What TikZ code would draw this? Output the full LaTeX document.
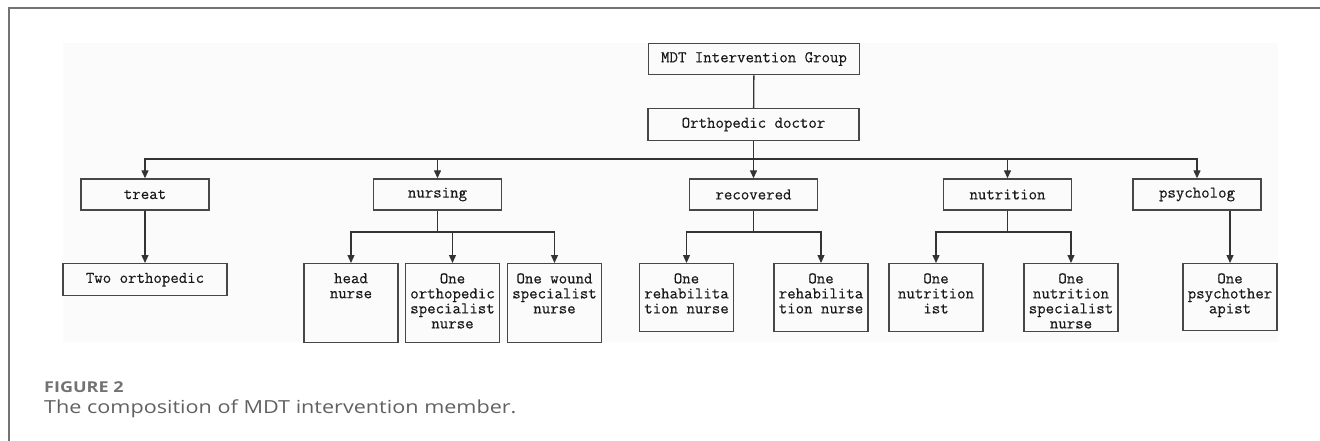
\documentclass[tikz,border=0pt]{standalone}
\usepackage{fontspec}
\setmainfont{Open Sans}
\newfontfamily\capfont[FakeStretch=1.2]{Open Sans}
\newfontfamily\chartfont[FakeBold=0.3]{Latin Modern Mono}
\usetikzlibrary{arrows.meta}

\tikzset{
  chart text/.style={font=\chartfont\fontsize{16.4}{15}\selectfont, text=black!90},
  box/.style={draw=black!72, line width=1.4pt, inner sep=0pt, chart text},
  topbox/.style={box, minimum width=211, minimum height=31.5},
  groupbox/.style={box, minimum width=128, minimum height=31},
  memberbox/.style={box, minimum width=94, minimum height=#1, anchor=north},
  membertext/.style={anchor=north, align=center, inner sep=0pt, yshift=-10pt, chart text},
  link/.style={draw=black!80, line width=1.3pt},
  arrow/.style={link, -{Triangle[length=8pt,width=7pt]}},
}

\begin{document}
\begin{tikzpicture}[x=1pt,y=-1pt]
	\useasboundingbox (0,0) rectangle (1320,441);
	\fill[black!1.5] (63,43) rectangle (1278,342);
	\draw[black!55, line width=1.5pt] (9,441) -- (9,8) -- (1320,8);
	
	% top of the tree
	\node[topbox] (mdt) at (754,59) {MDT Intervention Group};
	\node[topbox] (ortho) at (753.5,124.5) {Orthopedic doctor};
	\coordinate (bus) at (753.5,159);
	\coordinate (lvl2) at (0,232);
	
	% groups
	\node[groupbox] (treat) at (145,194.5) {treat};
	\node[groupbox] (nursing) at (437.5,194.5) {nursing};
	\node[groupbox] (recovered) at (753.5,194.5) {recovered};
	\node[groupbox] (nutrition) at (1007.5,194.5) {nutrition};
	\node[groupbox] (psycholog) at (1197,194.5) {psycholog};
	
	% members
	\node[box, minimum width=164, minimum height=32, anchor=north] (twoortho) at (145,263) {Two orthopedic};
	\node[memberbox=79, label={[membertext]north:{head\\nurse}}] (head) at (351,263) {};
	\node[memberbox=79, label={[membertext]north:{One\\orthopedic\\specialist\\nurse}}] (orthspec) at (452.5,263) {};
	\node[memberbox=79, label={[membertext]north:{One wound\\specialist\\nurse}}] (wound) at (554.5,263) {};
	\node[memberbox=68, label={[membertext]north:{One\\rehabilita\\tion nurse}}] (rehabA) at (686.5,263) {};
	\node[memberbox=68, label={[membertext]north:{One\\rehabilita\\tion nurse}}] (rehabB) at (821,263) {};
	\node[memberbox=68, label={[membertext]north:{One\\nutrition\\ist}}] (nutritionist) at (936,263) {};
	\node[memberbox=68, label={[membertext]north:{One\\nutrition\\specialist\\nurse}}] (nutrspec) at (1071,263) {};
	\node[memberbox=67, label={[membertext]north:{One\\psychother\\apist}}] (psychother) at (1230,263) {};
	
	% connectors
	\draw[link] (mdt) -- (ortho);
	\draw[arrow] (ortho.south) -- (recovered.north);
	\foreach \g in {treat,nursing,nutrition,psycholog}
		\draw[arrow] (bus) -| (\g.north);
	
	\draw[arrow] (treat) -- (twoortho);
	\draw[link] (nursing.south) -- (nursing.south |- lvl2);
	\foreach \m in {head,orthspec,wound}
		\draw[arrow] (nursing.south |- lvl2) -| (\m.north);
	\draw[link] (recovered.south) -- (recovered.south |- lvl2);
	\foreach \m in {rehabA,rehabB}
		\draw[arrow] (recovered.south |- lvl2) -| (\m.north);
	\draw[link] (nutrition.south) -- (nutrition.south |- lvl2);
	\foreach \m in {nutritionist,nutrspec}
		\draw[arrow] (nutrition.south |- lvl2) -| (\m.north);
	\draw[arrow] (psychother.north |- psycholog.south) -- (psychother.north);
	
	% caption
	\node[anchor=base west, inner sep=0pt, font=\capfont\fontsize{15}{17}\selectfont\bfseries, text=black!55] (figno) at (44,392) {FIGURE 2};
	\node[anchor=base west, inner sep=0pt, font=\capfont\fontsize{18}{20}\selectfont, text=black!62] (figcap) at (44,413) {The composition of MDT intervention member.};
\end{tikzpicture}
\end{document}
